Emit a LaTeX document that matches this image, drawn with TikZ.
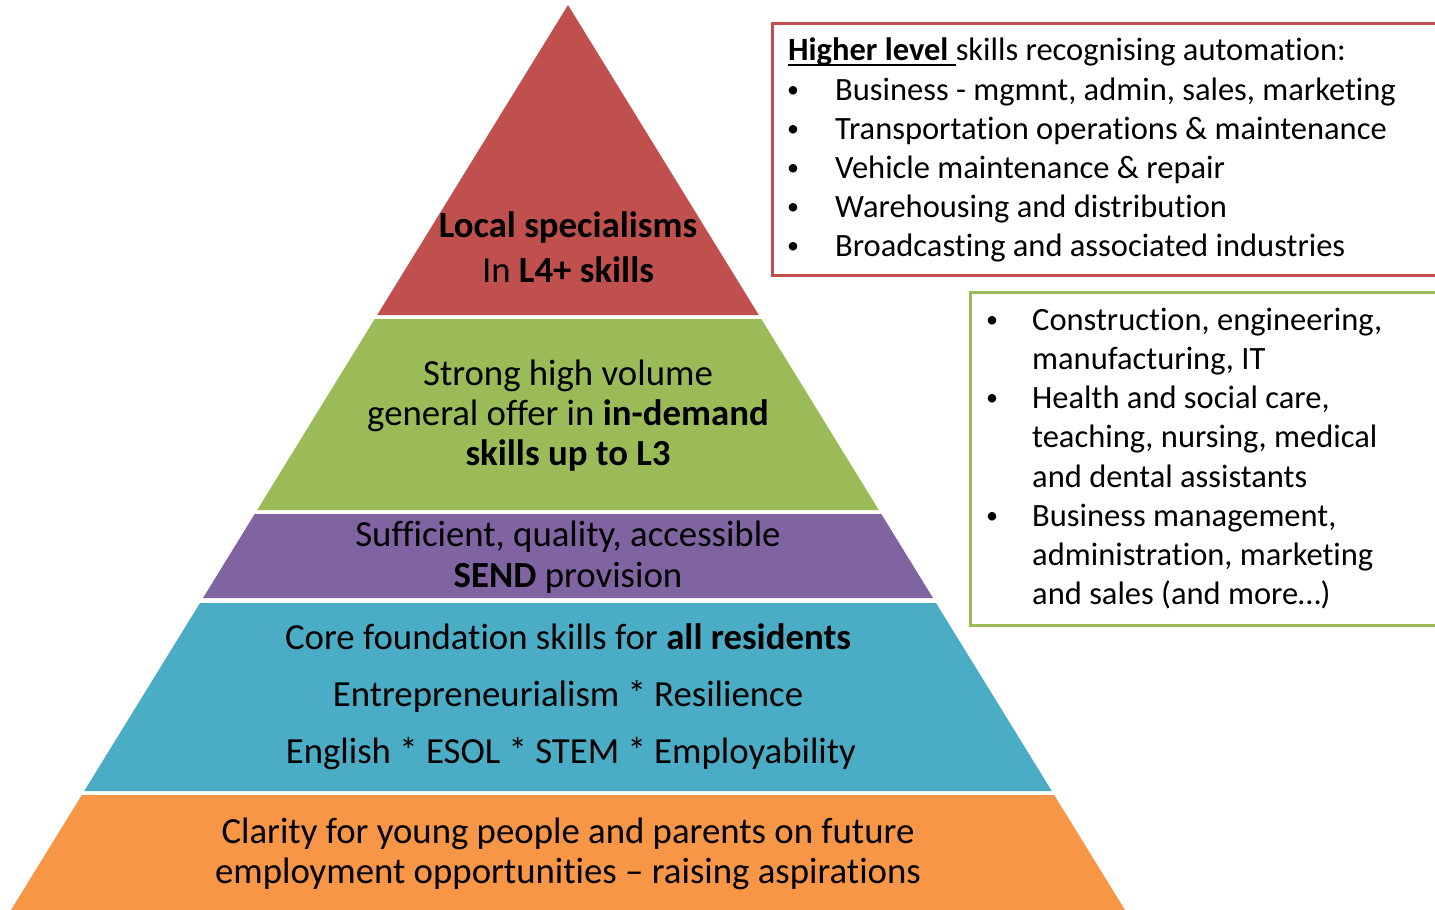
\documentclass[tikz,border=0pt]{standalone}
\usepackage{fontspec}
\setmainfont[Ligatures={NoCommon}]{Carlito}
\usepackage{tikz}
\definecolor{lvlred}{HTML}{C0504D}
\definecolor{lvlgreen}{HTML}{9BBB59}
\definecolor{lvlpurple}{HTML}{8064A2}
\definecolor{lvlblue}{HTML}{4BACC6}
\definecolor{lvlorange}{HTML}{F79646}
\newcommand{\ulhead}[1]{\setbox0\hbox{#1}\rlap{\rule[-6pt]{\wd0}{2pt}}\box0}

\begin{document}
\begin{tikzpicture}[x=1pt,y=-1pt,
  pyr/.style={inner sep=0pt,anchor=base,font=\fontsize{36.8}{43}\selectfont},
  lst/.style={inner sep=0pt,anchor=base west,font=\fontsize{32.5}{39}\selectfont},
  dot/.style={inner sep=0pt,anchor=base,font=\fontsize{24}{30}\selectfont}]
\useasboundingbox (0,0) rectangle (1435,910);
\clip (0,0) rectangle (1435,910);

% pyramid layers
\fill [lvlred] (568,5) -- (377.2,315) -- (758.8,315) -- cycle;
\fill [lvlgreen] (374.7,319) -- (761.3,319) -- (878.8,510) -- (257.2,510) -- cycle;
\fill [lvlpurple] (254.7,514) -- (881.3,514) -- (933,598) -- (203,598) -- cycle;
\fill [lvlblue] (200,603) -- (936,603) -- (1051.8,791) -- (84.2,791) -- cycle;
\fill [lvlorange] (81.8,795) -- (1054.2,795) -- (1125,910) -- (11,910) -- cycle;

\node [pyr] (spec1) at (568,237) {\textbf{Local specialisms}};
\node [pyr] (spec2) at (568,282) {In \textbf{L4+ skills}};
\node [pyr] (offer1) at (568,385) {Strong high volume};
\node [pyr] (offer2) at (568,425) {general offer in \textbf{in-demand}};
\node [pyr] (offer3) at (568,465) {\textbf{skills up to L3}};
\node [pyr] (send1) at (568,546) {Sufficient, quality, accessible};
\node [pyr] (send2) at (568,587) {\textbf{SEND} provision};
\node [pyr] (core1) at (568,649) {Core foundation skills for \textbf{all residents}};
\node [pyr] (core2) at (568,706) {Entrepreneurialism * Resilience};
\node [pyr] (core3) at (571,763) {English * ESOL * STEM * Employability};
\node [pyr] (clar1) at (568,843) {Clarity for young people and parents on future};
\node [pyr] (clar2) at (568,883) {employment opportunities -- raising aspirations};

% higher level box
\draw [lvlred,line width=3pt] (772,23) rectangle (1445,275);
\node [lst] (hdr) at (788,60) {\ulhead{\textbf{Higher level} }skills recognising automation:};
\node [dot] (hb1) at (793,97) {•};
\node [dot] (hb2) at (793,136) {•};
\node [dot] (hb3) at (793,175) {•};
\node [dot] (hb4) at (793,214) {•};
\node [dot] (hb5) at (793,253) {•};
\node [lst] (hi1) at (835,100) {Business - mgmnt, admin, sales, marketing};
\node [lst] (hi2) at (835,139) {Transportation operations \& maintenance};
\node [lst] (hi3) at (835,178) {Vehicle maintenance \& repair};
\node [lst] (hi4) at (835,217) {Warehousing and distribution};
\node [lst] (hi5) at (835,256) {Broadcasting and associated industries};

% sector box
\draw [lvlgreen,line width=3pt] (970,292) rectangle (1445,625);
\node [dot] (gb1) at (992,327) {•};
\node [dot] (gb2) at (992,405) {•};
\node [dot] (gb3) at (992,523) {•};
\node [lst] (gi1) at (1032,330) {Construction, engineering,};
\node [lst] (gi2) at (1032,369) {manufacturing, IT};
\node [lst] (gi3) at (1032,408) {Health and social care,};
\node [lst] (gi4) at (1032,447) {teaching, nursing, medical};
\node [lst] (gi5) at (1032,487) {and dental assistants};
\node [lst] (gi6) at (1032,526) {Business management,};
\node [lst] (gi7) at (1032,565) {administration, marketing};
\node [lst] (gi8) at (1032,604) {and sales (and more…)};
\end{tikzpicture}
\end{document}
